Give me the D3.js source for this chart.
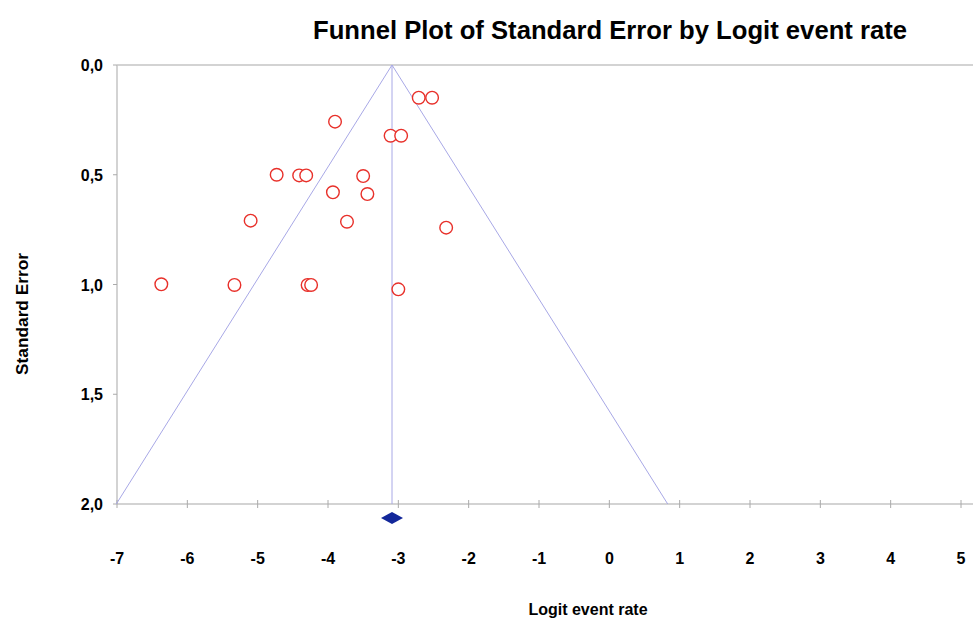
<!DOCTYPE html>
<html>
<head>
<meta charset="utf-8">
<script src="https://cdn.jsdelivr.net/npm/d3@7"></script>
<style>
  body { margin: 0; background: #fff; }
  text { font-family: "Liberation Sans", Arial, sans-serif; font-weight: bold; fill: #000; }
</style>
</head>
<body>
<div id="funnel"></div>
<script>
// study values
var logitRate = [-2.71, -2.52, -3.90, -3.11, -2.96, -4.73, -4.41, -4.31, -3.50, -3.93,
                 -3.44, -5.10, -3.73, -2.32, -6.37, -5.33, -4.29, -4.24, -3.00];
var stdErr    = [0.149, 0.149, 0.258, 0.322, 0.322, 0.500, 0.503, 0.503, 0.506, 0.580,
                 0.588, 0.709, 0.714, 0.741, 0.999, 1.002, 1.002, 1.002, 1.022];
var pooled = -3.09;
var xTicks = [-7, -6, -5, -4, -3, -2, -1, 0, 1, 2, 3, 4, 5];
var yTicks = [0, 0.5, 1, 1.5, 2];

var W = 975, H = 621;

var svg = d3.select("#funnel").append("svg")
    .attr("width", W)
    .attr("height", H);

var x = d3.scaleLinear().domain([-7, 5]).range([117, 961]);
var y = d3.scaleLinear().domain([0, 2]).range([65, 504]);
var right = 973;

var fmt = function(d){ return d3.format(".1f")(d).replace(".", ","); };

// title
svg.append("text")
    .attr("x", 313).attr("y", 39)
    .attr("textLength", 594)
    .attr("lengthAdjust", "spacingAndGlyphs")
    .style("font-size", "25px")
    .text("Funnel Plot of Standard Error by Logit event rate");

// frame lines (left, top)
var axisCol = "#c4c4c4";
svg.append("line").attr("x1", x(-7)).attr("x2", right).attr("y1", y(0)).attr("y2", y(0))
    .attr("stroke", axisCol).attr("stroke-width", 1.5);
svg.append("line").attr("x1", x(-7)).attr("x2", x(-7)).attr("y1", y(0)).attr("y2", y(2))
    .attr("stroke", axisCol).attr("stroke-width", 1.5);

// x axis
var xAxis = svg.append("g")
    .attr("transform", "translate(0," + y(2) + ")");
xAxis.append("line").attr("x1", x(-7)).attr("x2", right)
    .attr("stroke", axisCol).attr("stroke-width", 1.5);
xAxis.selectAll(".xt").data(xTicks).enter().append("line")
    .attr("x1", function(d){ return x(d); }).attr("x2", function(d){ return x(d); })
    .attr("y1", -4).attr("y2", 4)
    .attr("stroke", "#aaa").attr("stroke-width", 1);
xAxis.selectAll(".xl").data(xTicks).enter().append("text")
    .attr("x", function(d){ return x(d); })
    .attr("y", 60)
    .attr("text-anchor", "middle")
    .style("font-size", "16px")
    .text(function(d){ return d; });

// y axis
var yAxis = svg.append("g");
yAxis.selectAll(".yt").data(yTicks).enter().append("line")
    .attr("x1", x(-7) - 4).attr("x2", x(-7))
    .attr("y1", function(d){ return y(d); }).attr("y2", function(d){ return y(d); })
    .attr("stroke", "#aaa").attr("stroke-width", 1);
yAxis.selectAll(".yl").data(yTicks).enter().append("text")
    .attr("x", 103)
    .attr("y", function(d){ return y(d) + 6; })
    .attr("text-anchor", "end")
    .style("font-size", "16px")
    .text(fmt);

// axis titles
svg.append("text")
    .attr("transform", "translate(28,314) rotate(-90)")
    .attr("text-anchor", "middle")
    .attr("textLength", 122)
    .attr("lengthAdjust", "spacingAndGlyphs")
    .style("font-size", "16px")
    .text("Standard Error");

svg.append("text")
    .attr("x", 588).attr("y", 615)
    .attr("text-anchor", "middle")
    .style("font-size", "16px")
    .text("Logit event rate");

// funnel
var funnelCol = "#a8a8e6";
svg.append("line")
    .attr("x1", x(pooled)).attr("x2", x(pooled))
    .attr("y1", y(0)).attr("y2", y(2))
    .attr("stroke", funnelCol).attr("stroke-width", 1);
svg.append("path")
    .attr("d", d3.line()([[x(pooled - 1.96 * 2), y(2)], [x(pooled), y(0)], [x(pooled + 1.96 * 2), y(2)]]))
    .attr("fill", "none")
    .attr("stroke", funnelCol).attr("stroke-width", 1);

// studies
svg.selectAll(".dot")
    .data(d3.range(logitRate.length))
    .enter()
    .append("circle")
    .attr("cx", function(i){ return x(logitRate[i]); })
    .attr("cy", function(i){ return y(stdErr[i]); })
    .attr("r", 6.3)
    .attr("fill", "#fff")
    .attr("stroke", "#e8302a")
    .attr("stroke-width", 1.4);

// pooled estimate diamond
var dy = y(2) + 14;
svg.append("path")
    .attr("d", d3.line()([[x(pooled) - 11, dy], [x(pooled), dy - 6], [x(pooled) + 11, dy], [x(pooled), dy + 6]]) + "Z")
    .attr("fill", "#13279a");
</script>
</body>
</html>
